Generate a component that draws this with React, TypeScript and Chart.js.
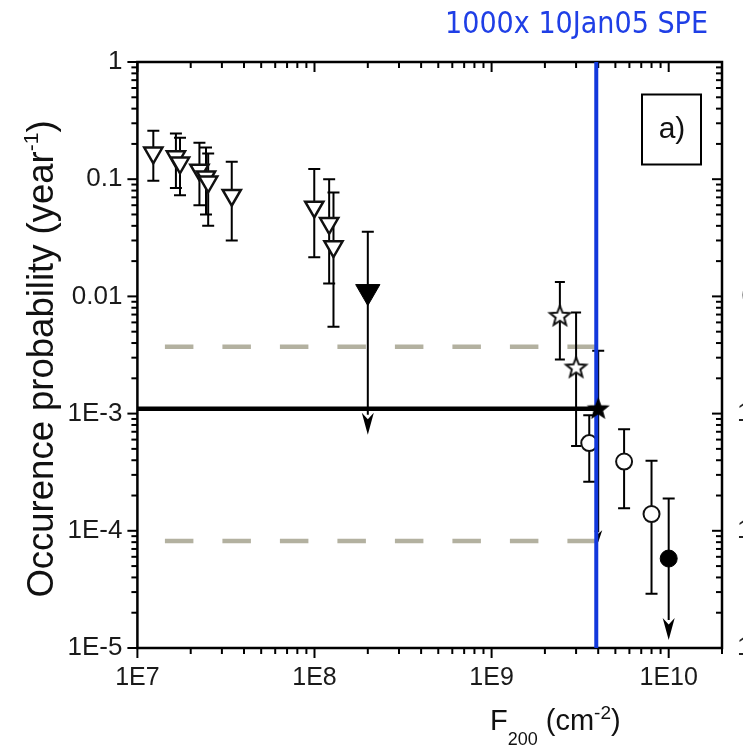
import React, { useEffect, useRef } from 'react';
import { Chart, registerables } from 'chart.js';

Chart.register(...registerables);

// ---------- axis ticks ----------
const xMajorValues = [1e7, 1e8, 1e9, 1e10];
const xTickLabels = ['1E7', '1E8', '1E9', '1E10'];
const yMajorValues = [1e-5, 1e-4, 1e-3, 1e-2, 1e-1, 1];
const yTickLabels = ['1E-5', '1E-4', '1E-3', '0.01', '0.1', '1'];

// ---------- series ----------
const openTriX = [1.23e7, 1.65e7, 1.74e7, 2.24e7, 2.44e7, 2.51e7, 3.41e7, 9.97e7, 1.21e8, 1.28e8];
const openTriY = [0.168, 0.156, 0.138, 0.12, 0.105, 0.095, 0.073, 0.058, 0.042, 0.0266];
const openTriHi = [0.259, 0.246, 0.226, 0.205, 0.186, 0.166, 0.141, 0.122, 0.1, 0.077];
const openTriLo = [0.097, 0.084, 0.073, 0.06, 0.05, 0.04, 0.03, 0.0216, 0.0129, 0.0055];

const filledTriX = [2.0e8];
const filledTriY = [0.011];
const filledTriHi = [0.0357];
const filledTriArrow = [6.6e-4];

const openStarX = [2.43e9, 3.0e9];
const openStarY = [6.9e-3, 2.5e-3];
const openStarHi = [0.0133, 7.3e-3];
const openStarLo = [2.9e-3, 5.3e-4];

const filledStarX = [4.0e9];
const filledStarY = [1.11e-3];
const filledStarHi = [3.44e-3];
const filledStarArrow = [8.0e-5];

const openCircleX = [3.56e9, 5.6e9, 8.0e9];
const openCircleY = [5.6e-4, 3.9e-4, 1.39e-4];
const openCircleHi = [9.7e-4, 7.35e-4, 3.96e-4];
const openCircleLo = [2.62e-4, 1.56e-4, 2.9e-5];

const filledCircleX = [1.0e10];
const filledCircleY = [5.8e-5];
const filledCircleHi = [1.89e-4];
const filledCircleArrow = [1.17e-5];

// ---------- reference lines ----------
const blackLevel = 1.1e-3;
const blackLineX = [1e7, 3.9e9];
const dashUpperLevel = 3.72e-3;
const dashLowerLevel = 8.2e-5;
const dashLineX = [1.43e7, 3.9e9];
const blueLineX = 3.9e9;
const yRange = [1e-5, 1];
const xRange = [1e7, 2e10];

const TITLE = '1000x 10Jan05 SPE';
const PANEL = 'a)';

const FONT = "'Liberation Sans', Arial, Helvetica, sans-serif";

const isMajor = (v: number, majors: number[]) =>
  majors.some((m) => Math.abs(Math.log10(v) - Math.log10(m)) < 1e-6);

function logTicks(min: number, max: number) {
  const out: { value: number }[] = [];
  const e0 = Math.floor(Math.log10(min));
  const e1 = Math.ceil(Math.log10(max));
  for (let e = e0; e <= e1; e++) {
    for (let m = 1; m <= 9; m++) {
      const v = m * Math.pow(10, e);
      if (v >= min * 0.999999 && v <= max * 1.000001) out.push({ value: v });
    }
  }
  return out;
}

function makeStar(fill: string, stroke: string, outer: number, inner: number, lw: number) {
  const size = Math.ceil(outer * 2 + lw * 2 + 4);
  const c = document.createElement('canvas');
  c.width = size;
  c.height = size;
  const ctx = c.getContext('2d')!;
  const cx = size / 2;
  const cy = size / 2 + 1;
  ctx.beginPath();
  for (let i = 0; i < 10; i++) {
    const r = i % 2 === 0 ? outer : inner;
    const a = -Math.PI / 2 + (i * Math.PI) / 5;
    const px = cx + r * Math.cos(a);
    const py = cy + r * Math.sin(a);
    if (i === 0) ctx.moveTo(px, py);
    else ctx.lineTo(px, py);
  }
  ctx.closePath();
  ctx.fillStyle = fill;
  ctx.fill();
  ctx.lineWidth = lw;
  ctx.strokeStyle = stroke;
  ctx.lineJoin = 'miter';
  ctx.stroke();
  return c;
}

const pts = (xs: number[], ys: number[]) => xs.map((x, i) => ({ x, y: ys[i] }));

type Seg = { t: string; size: number; dy: number };
function drawRich(ctx: CanvasRenderingContext2D, segs: Seg[], x: number, y: number, align: 'left' | 'center') {
  let total = 0;
  const widths = segs.map((s) => {
    ctx.font = `${s.size}px ${FONT}`;
    const w = ctx.measureText(s.t).width;
    total += w;
    return w;
  });
  let cx = align === 'center' ? x - total / 2 : x;
  ctx.textAlign = 'left';
  ctx.textBaseline = 'alphabetic';
  segs.forEach((s, i) => {
    ctx.font = `${s.size}px ${FONT}`;
    ctx.fillText(s.t, cx, y + s.dy);
    cx += widths[i];
  });
}

const framePlugin = {
  id: 'frameTicks',
  beforeDatasetsDraw(chart: any) {
    const { ctx, chartArea: a } = chart;
    const xs = chart.scales.x;
    const ys = chart.scales.y;
    ctx.save();
    ctx.strokeStyle = '#000';
    ctx.lineWidth = 2.5;
    ctx.strokeRect(a.left, a.top, a.right - a.left, a.bottom - a.top);
    ctx.lineWidth = 2;
    const seg = (x1: number, y1: number, x2: number, y2: number) => {
      ctx.beginPath();
      ctx.moveTo(x1, y1);
      ctx.lineTo(x2, y2);
      ctx.stroke();
    };
    xs.ticks.forEach((t: any) => {
      const px = xs.getPixelForValue(t.value);
      const L = isMajor(t.value, xMajorValues) ? 10 : 6;
      seg(px, a.bottom, px, a.bottom + L);
      seg(px, a.top, px, a.top + L);
    });
    ys.ticks.forEach((t: any) => {
      const py = ys.getPixelForValue(t.value);
      const L = isMajor(t.value, yMajorValues) ? 10 : 6;
      seg(a.left - L, py, a.left, py);
      seg(a.right - L, py, a.right, py);
    });
    ctx.restore();
  },
};

const errorBarPlugin = {
  id: 'errorBars',
  beforeDatasetDraw(chart: any, args: any) {
    if (chart.data.datasets[args.index].label !== 'Open triangles') return;
    const ctx: CanvasRenderingContext2D = chart.ctx;
    const xs = chart.scales.x;
    const ys = chart.scales.y;
    ctx.save();
    ctx.strokeStyle = '#000';
    ctx.fillStyle = '#000';
    ctx.lineWidth = 2;
    const capBar = (x: number, lo: number, hi: number, cap = 6) => {
      const px = xs.getPixelForValue(x);
      const p1 = ys.getPixelForValue(lo);
      const p2 = ys.getPixelForValue(hi);
      ctx.beginPath();
      ctx.moveTo(px, p1);
      ctx.lineTo(px, p2);
      ctx.moveTo(px - cap, p1);
      ctx.lineTo(px + cap, p1);
      ctx.moveTo(px - cap, p2);
      ctx.lineTo(px + cap, p2);
      ctx.stroke();
    };
    const arrowBar = (x: number, tip: number, hi: number, hw = 6, hh = 22, cap = 6) => {
      const px = xs.getPixelForValue(x);
      const pt = ys.getPixelForValue(tip);
      const p2 = ys.getPixelForValue(hi);
      ctx.beginPath();
      ctx.moveTo(px, pt - hh + 2);
      ctx.lineTo(px, p2);
      ctx.moveTo(px - cap, p2);
      ctx.lineTo(px + cap, p2);
      ctx.stroke();
      ctx.beginPath();
      ctx.moveTo(px, pt);
      ctx.lineTo(px - hw, pt - hh);
      ctx.lineTo(px, pt - hh * 0.7);
      ctx.lineTo(px + hw, pt - hh);
      ctx.closePath();
      ctx.fill();
    };
    openTriX.forEach((x, i) => capBar(x, openTriLo[i], openTriHi[i]));
    openStarX.forEach((x, i) => capBar(x, openStarLo[i], openStarHi[i], 5));
    openCircleX.forEach((x, i) => capBar(x, openCircleLo[i], openCircleHi[i]));
    filledTriX.forEach((x, i) => arrowBar(x, filledTriArrow[i], filledTriHi[i]));
    filledCircleX.forEach((x, i) => arrowBar(x, filledCircleArrow[i], filledCircleHi[i]));
    filledStarX.forEach((x, i) => arrowBar(x, filledStarArrow[i], filledStarHi[i], 4, 12));
    ctx.restore();
  },
};

const textPlugin = {
  id: 'texts',
  afterDraw(chart: any) {
    const ctx: CanvasRenderingContext2D = chart.ctx;
    const ys = chart.scales.y;
    ctx.save();
    // title, horizontally fitted
    ctx.fillStyle = '#1f3fe6';
    ctx.font = `31px 'DejaVu Sans Condensed', 'DejaVu Sans', sans-serif`;
    const tw = ctx.measureText(TITLE).width;
    const target = 263;
    ctx.save();
    ctx.translate(576.5, 33);
    ctx.scale(target / tw, 1);
    ctx.textAlign = 'center';
    ctx.textBaseline = 'alphabetic';
    ctx.fillText(TITLE, 0, 0);
    ctx.restore();

    // y axis title
    ctx.fillStyle = '#111';
    ctx.save();
    ctx.translate(53, 359);
    ctx.rotate(-Math.PI / 2);
    drawRich(
      ctx,
      [
        { t: 'Occurence probability (year', size: 36.5, dy: 0 },
        { t: '-1', size: 21, dy: -15 },
        { t: ')', size: 36.5, dy: 0 },
      ],
      0,
      0,
      'center'
    );
    ctx.restore();

    // x axis title
    drawRich(
      ctx,
      [
        { t: 'F', size: 29, dy: 0 },
        { t: '200', size: 18, dy: 15 },
        { t: ' (cm', size: 29, dy: 0 },
        { t: '-2', size: 19, dy: -11 },
        { t: ')', size: 29, dy: 0 },
      ],
      490,
      730,
      'left'
    );

    // panel label box
    ctx.strokeStyle = '#000';
    ctx.lineWidth = 2;
    ctx.strokeRect(642, 94.5, 59, 70);
    ctx.font = `30px ${FONT}`;
    ctx.textAlign = 'center';
    ctx.textBaseline = 'middle';
    ctx.fillText(PANEL, 672, 130);

    // neighbouring panel's tick labels, cut by the page edge
    ctx.font = `26px ${FONT}`;
    ctx.textAlign = 'right';
    ctx.fillStyle = '#222';
    yMajorValues.forEach((v, i) => {
      ctx.fillText(yTickLabels[i], 792, ys.getPixelForValue(v));
    });
    ctx.restore();
  },
};

export default function App() {
  const ref = useRef<HTMLCanvasElement | null>(null);
  useEffect(() => {
    if (!ref.current) return;
    const star = makeStar('#fff', '#111', 10.5, 4.5, 2);
    const starFilled = makeStar('#000', '#000', 10, 4.2, 1.5);
    const chart = new Chart(ref.current, {
      type: 'scatter',
      data: {
        datasets: [
          {
            label: 'Upper limit',
            data: pts(dashLineX, [dashUpperLevel, dashUpperLevel]),
            showLine: true,
            borderColor: '#b3b1a0',
            borderWidth: 4.5,
            borderDash: [28.5, 29],
            pointRadius: 0,
            order: 20,
          },
          {
            label: 'Lower limit',
            data: pts(dashLineX, [dashLowerLevel, dashLowerLevel]),
            showLine: true,
            borderColor: '#b3b1a0',
            borderWidth: 4.5,
            borderDash: [28.5, 29],
            pointRadius: 0,
            order: 19,
          },
          {
            label: 'Mean',
            data: pts(blackLineX, [blackLevel, blackLevel]),
            showLine: true,
            borderColor: '#000',
            borderWidth: 4.5,
            pointRadius: 0,
            order: 18,
          },
          {
            label: 'Open triangles',
            data: pts(openTriX, openTriY),
            pointStyle: 'triangle',
            rotation: 180,
            pointRadius: 10.5,
            borderWidth: 2.5,
            borderColor: '#111',
            backgroundColor: '#fff',
            order: 10,
          },
          {
            label: 'Filled triangle',
            data: pts(filledTriX, filledTriY),
            pointStyle: 'triangle',
            rotation: 180,
            pointRadius: 14,
            borderWidth: 1,
            borderColor: '#000',
            backgroundColor: '#000',
            order: 9,
          },
          {
            label: 'Open stars',
            data: pts(openStarX, openStarY),
            pointStyle: star as any,
            pointRadius: 10,
            order: 8,
          },
          {
            label: 'Open circles',
            data: pts(openCircleX, openCircleY),
            pointStyle: 'circle',
            pointRadius: 8,
            borderWidth: 2,
            borderColor: '#111',
            backgroundColor: '#fff',
            order: 7,
          },
          {
            label: 'Filled circle',
            data: pts(filledCircleX, filledCircleY),
            pointStyle: 'circle',
            pointRadius: 8.5,
            borderWidth: 1,
            borderColor: '#000',
            backgroundColor: '#000',
            order: 6,
          },
          {
            label: '1000x 10Jan05 SPE',
            data: pts([blueLineX, blueLineX], yRange),
            showLine: true,
            borderColor: '#1238dc',
            borderWidth: 4,
            pointRadius: 0,
            order: 5,
          },
          {
            label: 'Filled star',
            data: pts(filledStarX, filledStarY),
            pointStyle: starFilled as any,
            pointRadius: 10,
            order: 4,
          },
        ],
      },
      options: {
        responsive: false,
        animation: false,
        events: [],
        layout: { padding: { top: 62, right: 21, left: 0, bottom: 0 } },
        plugins: {
          legend: { display: false },
          tooltip: { enabled: false },
          title: { display: false },
        },
        scales: {
          x: {
            type: 'logarithmic',
            position: 'bottom',
            min: xRange[0],
            max: xRange[1],
            grid: { display: false, drawTicks: false },
            border: { display: false },
            afterBuildTicks: (s: any) => {
              s.ticks = logTicks(xRange[0], xRange[1]);
            },
            afterFit: (s: any) => {
              s.height = 97;
            },
            ticks: {
              autoSkip: false,
              maxRotation: 0,
              padding: 15,
              color: '#1a1a1a',
              font: { family: FONT, size: 25 },
              callback: (v: any) => {
                const i = xMajorValues.findIndex((m) => Math.abs(Math.log10(Number(v)) - Math.log10(m)) < 1e-6);
                return i >= 0 ? xTickLabels[i] : '';
              },
            },
          },
          y: {
            type: 'logarithmic',
            position: 'left',
            min: yRange[0],
            max: yRange[1],
            grid: { display: false, drawTicks: false },
            border: { display: false },
            afterBuildTicks: (s: any) => {
              s.ticks = logTicks(yRange[0], yRange[1]);
            },
            afterFit: (s: any) => {
              s.width = 137.4;
            },
            ticks: {
              autoSkip: false,
              padding: 15,
              color: '#1a1a1a',
              font: { family: FONT, size: 26 },
              callback: (v: any) => {
                const i = yMajorValues.findIndex((m) => Math.abs(Math.log10(Number(v)) - Math.log10(m)) < 1e-6);
                return i >= 0 ? yTickLabels[i] : '';
              },
            },
          },
        },
      } as any,
      plugins: [framePlugin, errorBarPlugin, textPlugin],
    });
    return () => chart.destroy();
  }, []);
  return (
    <div style={{ position: 'absolute', left: 0, top: 0, width: 743, height: 745, background: '#fff' }}>
      <canvas ref={ref} width={743} height={745} style={{ display: 'block' }} />
    </div>
  );
}
